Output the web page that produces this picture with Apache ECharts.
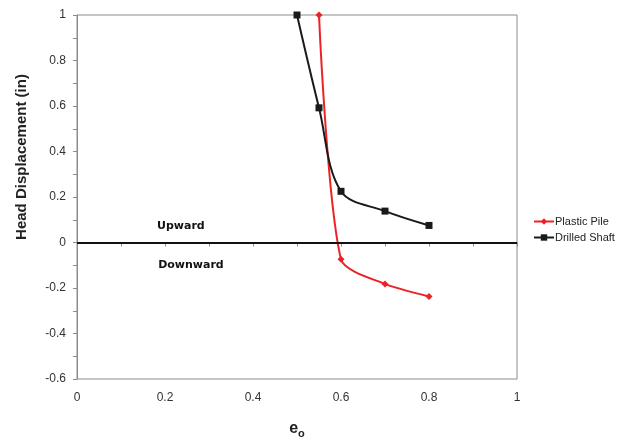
<!DOCTYPE html>
<html>
<head>
<meta charset="utf-8">
<script src="https://cdn.jsdelivr.net/npm/echarts@6/dist/echarts.min.js"></script>
<style>
  html, body { margin: 0; padding: 0; background: #fff; overflow: hidden; }
  #chart { width: 626px; height: 444px; }
</style>
</head>
<body>
<div id="chart"></div>
<script>
// Void ratio values on the horizontal axis
const eoValues = [0.5, 0.55, 0.6, 0.7, 0.8];
// Head displacement (in) for each case
const plasticX = [0.55, 0.6, 0.7, 0.8];
const plasticY = [1.0, -0.074, -0.182, -0.237];
const drilledX = [0.5, 0.55, 0.6, 0.7, 0.8];
const drilledY = [1.0, 0.592, 0.225, 0.138, 0.075];
const seriesNames = ['Plastic Pile', 'Drilled Shaft'];
const regionLabels = ['Upward', 'Downward'];

const pair = (xs, ys) => xs.map((x, i) => [x, ys[i]]);

const chart = echarts.init(document.getElementById('chart'));
const axisGray = '#8c8c8c';
const labelStyle = { color: '#333', fontSize: 12, fontFamily: 'Liberation Sans, Arial, sans-serif' };

chart.setOption({
  animation: false,
  grid: { left: 77, right: 109, top: 15, bottom: 59, show: true, borderColor: axisGray, borderWidth: 1 },
  legend: {
    orient: 'vertical',
    left: 528,
    top: 211,
    itemWidth: 20,
    itemHeight: 8,
    itemGap: 5,
    textStyle: { color: '#222', fontSize: 11, fontFamily: 'Liberation Sans, Arial, sans-serif', padding: [0, 0, 0, -4] },
    data: seriesNames
  },
  xAxis: {
    type: 'value',
    min: 0, max: 1, interval: 0.2,
    name: '{e|e}{o|o}',
    nameLocation: 'middle',
    nameGap: 39,
    nameTextStyle: {
      rich: {
        e: { fontSize: 16, fontWeight: 'bold', color: '#222', fontFamily: 'Liberation Sans, Arial, sans-serif' },
        o: { fontSize: 11, fontWeight: 'bold', color: '#222', fontFamily: 'Liberation Sans, Arial, sans-serif', padding: [10, 0, 0, 0] }
      }
    },
    axisLine: { show: true, lineStyle: { color: axisGray } },
    axisTick: { show: true, length: 4, inside: false, lineStyle: { color: axisGray } },
    minorTick: { show: true, splitNumber: 2, length: 4, lineStyle: { color: axisGray } },
    axisLabel: Object.assign({ margin: 13 }, labelStyle),
    splitLine: { show: false }
  },
  yAxis: {
    type: 'value',
    min: -0.6, max: 1, interval: 0.2,
    axisLine: { show: true, onZero: false, lineStyle: { color: axisGray } },
    axisTick: { show: true, length: 4, lineStyle: { color: axisGray } },
    minorTick: { show: true, splitNumber: 2, length: 4, lineStyle: { color: axisGray } },
    axisLabel: Object.assign({ margin: 11, formatter: v => String(Math.round(v * 10) / 10) }, labelStyle),
    splitLine: { show: false }
  },
  graphic: [{
    type: 'text',
    x: 22, y: 157,
    rotation: Math.PI / 2,
    style: {
      text: 'Head Displacement (in)',
      fontSize: 15, fontWeight: 'bold',
      fontFamily: 'Liberation Sans, Arial, sans-serif',
      fill: '#222',
      align: 'center', verticalAlign: 'middle'
    }
  }],
  series: [
    {
      name: seriesNames[0],
      type: 'line',
      data: pair(plasticX, plasticY),
      smooth: 0.25,
      symbol: 'diamond',
      symbolSize: 7,
      itemStyle: { color: '#ec2227' },
      lineStyle: { color: '#ec2227', width: 2 },
      z: 3
    },
    {
      name: seriesNames[1],
      type: 'line',
      data: pair(drilledX, drilledY),
      smooth: 0.35,
      symbol: 'rect',
      symbolSize: 7,
      itemStyle: { color: '#1a1a1a' },
      lineStyle: { color: '#1a1a1a', width: 2 },
      z: 4,
      markLine: {
        silent: true,
        symbol: 'none',
        label: { show: false },
        lineStyle: { color: '#111', width: 2, type: 'solid' },
        data: [{ yAxis: 0 }]
      },
      markPoint: {
        symbol: 'circle',
        symbolSize: 0,
        label: {
          show: true,
          position: 'inside',
          color: '#111',
          fontSize: 11,
          fontWeight: 'bold',
          fontFamily: 'DejaVu Sans, sans-serif',
          formatter: p => p.name
        },
        data: [
          { name: regionLabels[0], coord: [0.236, 0.07] },
          { name: regionLabels[1], coord: [0.259, -0.1] }
        ]
      }
    }
  ]
});
</script>
</body>
</html>
